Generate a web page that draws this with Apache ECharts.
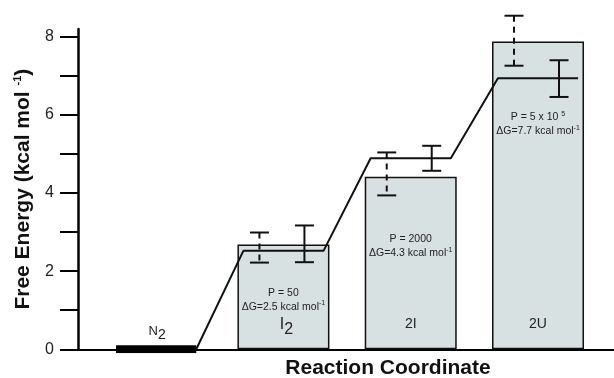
<!DOCTYPE html>
<html>
<head>
<meta charset="utf-8">
<script src="https://cdn.jsdelivr.net/npm/echarts@6/dist/echarts.min.js"></script>
<style>
  html, body { margin: 0; padding: 0; background: #fff; }
  #chart { width: 614px; height: 378px; }
</style>
</head>
<body>
<div id="chart"></div>
<script>
// Species along the reaction coordinate and their positions on it
const states = ['N2', 'I2', '2I', '2U'];
const statePos = [1, 2, 3, 4];

// Free energy (kcal/mol) shown as bars for the three non-native species
const barPos = [2, 3, 4];
const barEnergy = [2.68, 4.42, 7.88];

// Free-energy profile plateau for each species
const profileLevel = [0, 2.52, 4.89, 6.94];

// Error ranges, dashed estimate and solid estimate [low, high]
const dashedLow = [2.22, 3.94, 7.26];
const dashedHigh = [2.99, 5.04, 8.54];
const solidLow = [2.23, 4.57, 6.46];
const solidHigh = [3.17, 5.21, 7.40];

// Annotation text for each bar
const pText = ['50', '2000', '5 x 10 {sup|5}'];
const dgText = ['2.5', '4.3', '7.7'];
const barLabels = ['I{sub|2}', '2I', '2U'];
const nativeLabel = 'N{sub|2}';

// Axis ticks
const yTicks = [0, 1, 2, 3, 4, 5, 6, 7, 8];
const yLabels = [0, 2, 4, 6, 8];

// ---- layout / style constants ----
const FONT = '"Liberation Sans", Arial, Helvetica, sans-serif';
const HALF = 0.315;                 // half width of a profile plateau (axis units)
const annotY = [1.27, 2.64, 5.76];  // vertical centre of the P / dG text block
const labelY = 0.64;                // vertical centre of the species label in a bar
const labelSize = [16, 14, 14];
const nativeLabelY = 0.47;
const DASH_OFFSET = -24;            // px offset of dashed error bar from bar centre
const SOLID_OFFSET = 21;            // px offset of solid error bar from bar centre
const CAP = 9.5;                    // half width of error-bar caps in px

const supStyle = { fontSize: 7, lineHeight: 7, verticalAlign: 'top', fontFamily: FONT, fill: '#222' };

// Label with a subscript dropped by `drop` px: the line box is made taller
// than the subscript so that it can sit at the bottom of it.
function subLabel(x, y, text, size, subSize, drop) {
  return {
    type: 'text',
    style: {
      x: x, y: y, align: 'center', verticalAlign: 'middle',
      text: text, fontFamily: FONT, fontSize: size, lineHeight: subSize + 2 * drop, fill: '#222',
      rich: { sub: { fontSize: subSize, lineHeight: subSize, verticalAlign: 'bottom', fontFamily: FONT, fill: '#222' } }
    }
  };
}

const profile = [];
statePos.forEach((x, i) => {
  profile.push([x - HALF, profileLevel[i]]);
  profile.push([x + HALF, profileLevel[i]]);
});

function errorSeries(low, high, dashed, offset) {
  return {
    type: 'custom',
    z: 6,
    silent: true,
    data: low.map((l, i) => [barPos[i], l, high[i]]),
    renderItem(params, api) {
      const x = api.coord([api.value(0), 0])[0] + offset;
      const yLo = api.coord([api.value(0), api.value(1)])[1];
      const yHi = api.coord([api.value(0), api.value(2)])[1];
      const st = { stroke: '#111', lineWidth: 2 };
      return {
        type: 'group',
        children: [
          { type: 'line', shape: { x1: x, y1: yHi, x2: x, y2: yLo },
            style: Object.assign({}, st, dashed ? { lineDash: [6, 5] } : {}) },
          { type: 'line', shape: { x1: x - CAP, y1: yHi, x2: x + CAP, y2: yHi }, style: st },
          { type: 'line', shape: { x1: x - CAP, y1: yLo, x2: x + CAP, y2: yLo }, style: st }
        ]
      };
    }
  };
}

const chart = echarts.init(document.getElementById('chart'), null, { renderer: 'canvas' });

chart.setOption({
  animation: false,
  backgroundColor: '#fff',
  grid: { left: 78, right: 0, top: 29, bottom: 28.7, containLabel: false, outerBoundsMode: 'none' },
  xAxis: {
    type: 'value',
    min: 0.386,
    max: 4.597,
    axisLine: { show: true, onZero: false, lineStyle: { color: '#000', width: 2 } },
    axisTick: { show: false },
    axisLabel: { show: false },
    splitLine: { show: false },
    name: 'Reaction Coordinate',
    nameLocation: 'middle',
    nameGap: 8,
    nameTextStyle: { fontFamily: FONT, fontSize: 21, fontWeight: 'bold', color: '#111', padding: [0, 0, 0, 84] }
  },
  yAxis: {
    type: 'value',
    min: 0,
    max: 8.2,
    axisLine: { show: true, lineStyle: { color: '#000', width: 2.5 } },
    axisTick: { show: true, length: 18, customValues: yTicks, lineStyle: { color: '#000', width: 2 } },
    axisLabel: { customValues: yLabels, fontFamily: FONT, fontSize: 16, color: '#222', margin: 24 },
    splitLine: { show: false },
    name: 'Free Energy (kcal mol {sup|-1})',
    nameLocation: 'middle',
    nameRotate: 90,
    nameGap: 39,
    nameTextStyle: {
      fontFamily: FONT, fontSize: 21, fontWeight: 'bold', color: '#111', lineHeight: 22,
      rich: { sup: { fontFamily: FONT, fontSize: 11, fontWeight: 'bold', color: '#111', lineHeight: 10, verticalAlign: 'top' } }
    }
  },
  series: [
    {
      type: 'bar',
      z: 1,
      barWidth: 92,
      silent: true,
      data: barPos.map((x, i) => [x, barEnergy[i]]),
      itemStyle: { color: '#d8e1e2', borderColor: '#111', borderWidth: 1.5 }
    },
    {
      type: 'line',
      z: 4,
      silent: true,
      symbol: 'none',
      data: profile,
      lineStyle: { color: '#111', width: 2 }
    },
    {
      // native state level drawn as a thick bar on the baseline
      type: 'line',
      z: 5,
      silent: true,
      symbol: 'none',
      data: [[statePos[0] - HALF, profileLevel[0]], [statePos[0] + HALF, profileLevel[0]]],
      lineStyle: { color: '#000', width: 8, cap: 'butt' }
    },
    errorSeries(dashedLow, dashedHigh, true, DASH_OFFSET),
    errorSeries(solidLow, solidHigh, false, SOLID_OFFSET),
    {
      // P and dG annotations plus species labels
      type: 'custom',
      z: 7,
      silent: true,
      data: barPos.map((x, i) => [x, annotY[i]]),
      renderItem(params, api) {
        const i = params.dataIndex;
        const c = api.coord([api.value(0), api.value(1)]);
        const cl = api.coord([api.value(0), labelY]);
        return {
          type: 'group',
          children: [
            {
              type: 'text',
              style: {
                x: c[0], y: c[1], align: 'center', verticalAlign: 'middle',
                text: 'P = ' + pText[i] + '\n\u0394G=' + dgText[i] + ' kcal mol{sup|-1}',
                fontFamily: FONT, fontSize: 10.5, lineHeight: 14, fill: '#222',
                rich: { sup: supStyle }
              }
            },
            i === 0
              ? subLabel(cl[0] + 3, cl[1], barLabels[i], labelSize[i], labelSize[i], 5)
              : subLabel(cl[0], cl[1], barLabels[i], labelSize[i], labelSize[i], 0)
          ]
        };
      }
    },
    {
      type: 'custom',
      z: 7,
      silent: true,
      data: [[statePos[0], nativeLabelY]],
      renderItem(params, api) {
        const c = api.coord([api.value(0), api.value(1)]);
        return subLabel(c[0] + 1, c[1], nativeLabel, 13, 14, 4.5);
      }
    }
  ]
});
</script>
</body>
</html>
